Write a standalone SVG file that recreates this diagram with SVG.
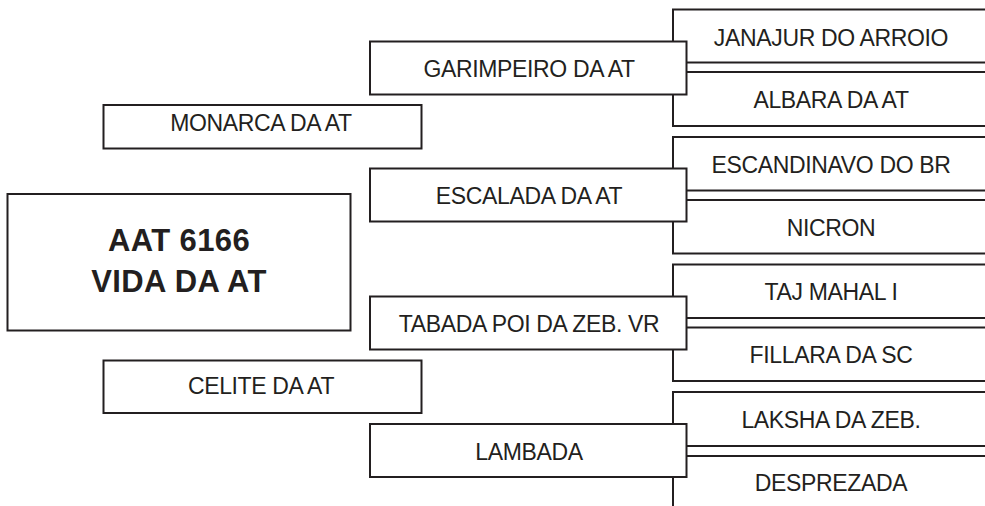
<svg xmlns="http://www.w3.org/2000/svg" width="985" height="506" viewBox="0 0 985 506">
<style>
.b{fill:#fff;stroke:#231f20;stroke-width:2}
.o{fill:none;stroke:#231f20;stroke-width:2}
.t{font-family:"Liberation Sans",Arial,sans-serif;font-size:23px;fill:#231f20;text-anchor:middle;letter-spacing:-0.35px}
.m{font-family:"Liberation Sans",Arial,sans-serif;font-size:31px;font-weight:bold;fill:#231f20;text-anchor:middle;letter-spacing:0.4px}
</style>
<rect width="985" height="506" fill="#fff"/>
<g id="connectors"></g>
<g id="janajur"><rect class="o" x="673" y="9.5" width="320" height="53"/><text class="t" x="831" y="45.5">JANAJUR DO ARROIO</text></g>
<g id="albara"><rect class="o" x="673" y="72" width="320" height="54"/><text class="t" x="831" y="107.5">ALBARA DA AT</text></g>
<g id="escandinavo"><rect class="o" x="673" y="137" width="320" height="53.5"/><text class="t" x="831" y="172.5">ESCANDINAVO DO BR</text></g>
<g id="nicron"><rect class="o" x="673" y="200" width="320" height="53.5"/><text class="t" x="831" y="235.5">NICRON</text></g>
<g id="taj"><rect class="o" x="673" y="264.5" width="320" height="53.5"/><text class="t" x="831" y="300">TAJ MAHAL I</text></g>
<g id="fillara"><rect class="o" x="673" y="327.5" width="320" height="53.5"/><text class="t" x="831" y="363">FILLARA DA SC</text></g>
<g id="laksha"><rect class="o" x="673" y="392" width="320" height="54"/><text class="t" x="831" y="427.5">LAKSHA DA ZEB.</text></g>
<g id="desprezada"><rect class="o" x="673" y="456" width="320" height="53.5"/><text class="t" x="831" y="490.5">DESPREZADA</text></g>
<g id="garimpeiro"><rect class="b" x="370" y="41.5" width="316.5" height="53"/><text class="t" x="529" y="77">GARIMPEIRO DA AT</text></g>
<g id="escalada"><rect class="b" x="370" y="168.5" width="316.5" height="53"/><text class="t" x="529" y="204">ESCALADA DA AT</text></g>
<g id="tabada"><rect class="b" x="370" y="296.5" width="316.5" height="53"/><text class="t" x="529" y="332">TABADA POI DA ZEB. VR</text></g>
<g id="lambada"><rect class="b" x="370" y="424" width="316.5" height="53"/><text class="t" x="529" y="459.5">LAMBADA</text></g>
<g id="monarca"><rect class="b" x="103.5" y="105" width="318" height="43.5"/><text class="t" x="261" y="131">MONARCA DA AT</text></g>
<g id="celite"><rect class="b" x="103.5" y="360.5" width="318" height="52.5"/><text class="t" x="261" y="394">CELITE DA AT</text></g>
<g id="main"><rect class="b" x="7.5" y="194" width="343" height="136.5"/><text class="m" x="179" y="250.5">AAT 6166</text><text class="m" x="179" y="292">VIDA DA AT</text></g>
</svg>
